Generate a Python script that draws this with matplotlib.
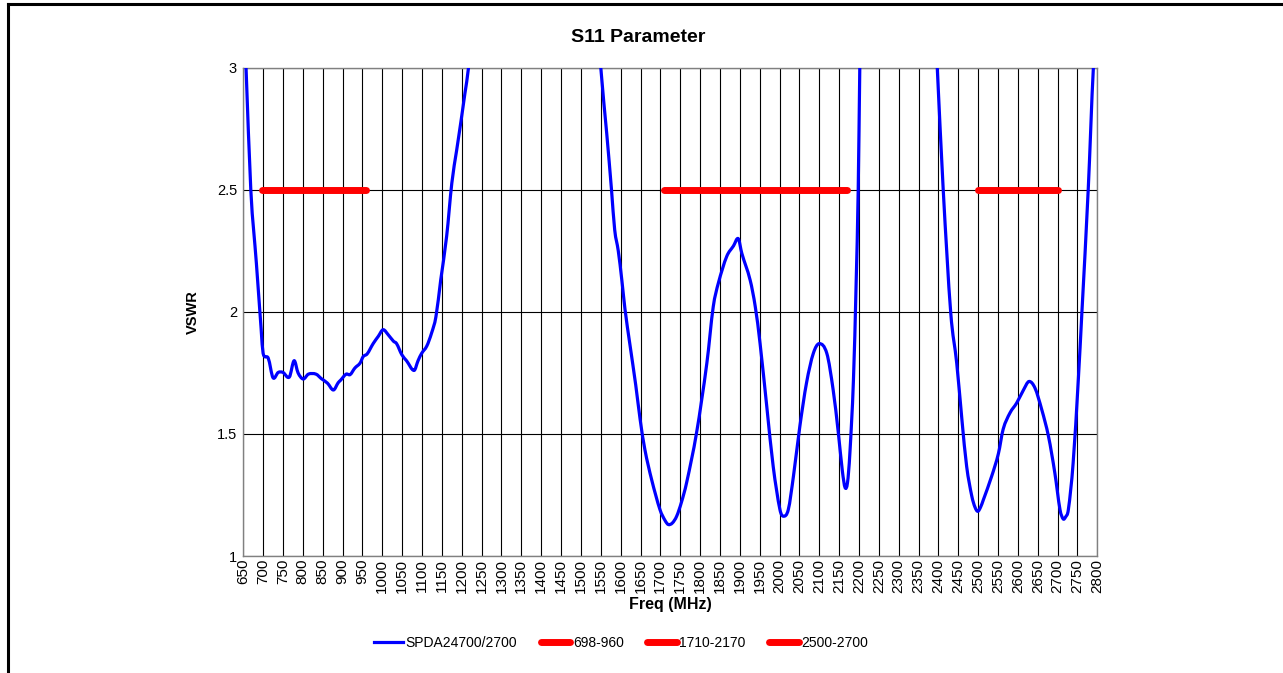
#!/usr/bin/env python3
"""S11 parameter (VSWR vs frequency) chart."""

import matplotlib
matplotlib.use("Agg")
import matplotlib.pyplot as plt
import numpy as np
from matplotlib.lines import Line2D
from matplotlib.patches import PathPatch
from matplotlib.path import Path

plt.rcParams["font.family"] = ["Liberation Sans", "DejaVu Sans"]

# measured VSWR trace (values above 3 are off-scale and get clipped)
freq_mhz = [
    650, 657, 669, 683, 695, 700, 713, 725, 738, 750, 766, 778, 788, 801, 814, 833, 847, 862,
    877, 889, 895, 909, 919, 931, 944, 952, 962, 977, 990, 1002, 1015, 1028, 1036, 1049, 1061,
    1080, 1090, 1099, 1112, 1124, 1135, 1147, 1162, 1175, 1187, 1198, 1208, 1217, 1225,
    1380,
    1542, 1550, 1565, 1577, 1585, 1594, 1603, 1611, 1623, 1638, 1649, 1661, 1678, 1699, 1712,
    1720, 1730, 1741, 1753, 1766, 1791, 1817, 1833, 1846, 1867, 1884, 1896, 1905, 1926, 1939,
    1951, 1968, 1984, 2001, 2010, 2022, 2035, 2051, 2068, 2085, 2100, 2119, 2135, 2148, 2158,
    2165, 2171, 2177, 2186, 2193, 2198, 2202, 2205,
    2300,
    2392, 2397, 2412, 2431, 2446, 2459, 2471, 2484, 2492, 2499, 2506, 2513, 2534, 2551, 2563,
    2580, 2597, 2614, 2628, 2643, 2660, 2677, 2693, 2706, 2714, 2720, 2727, 2739, 2752, 2761,
    2777, 2790, 2800,
]
vswr = [
    3.25, 3.0, 2.5, 2.2, 1.93, 1.83, 1.81, 1.73, 1.752, 1.752, 1.733, 1.80, 1.75, 1.725, 1.745,
    1.745, 1.726, 1.708, 1.68, 1.71, 1.72, 1.745, 1.743, 1.77, 1.79, 1.817, 1.828, 1.87, 1.90,
    1.927, 1.906, 1.88, 1.87, 1.825, 1.80, 1.76, 1.80, 1.83, 1.86, 1.913, 1.98, 2.13, 2.31,
    2.527, 2.66, 2.78, 2.895, 3.0, 3.15,
    6.0,
    3.2, 3.0, 2.73, 2.5, 2.336, 2.25, 2.13, 2.01, 1.87, 1.70, 1.56, 1.436, 1.313, 1.19, 1.145,
    1.129, 1.135, 1.163, 1.22, 1.30, 1.504, 1.79, 2.02, 2.118, 2.227, 2.27, 2.30, 2.24, 2.13,
    2.02, 1.87, 1.61, 1.367, 1.19, 1.163, 1.19, 1.327, 1.53, 1.71, 1.83, 1.87, 1.83, 1.68,
    1.504, 1.35, 1.28, 1.30, 1.42, 1.72, 2.13, 2.5, 3.0, 3.3,
    6.0,
    3.15, 3.0, 2.5, 1.995, 1.79, 1.56, 1.367, 1.245, 1.20, 1.183, 1.20, 1.23, 1.327, 1.42, 1.52,
    1.586, 1.627, 1.68, 1.715, 1.688, 1.60, 1.49, 1.34, 1.19, 1.152, 1.16, 1.19, 1.38, 1.72,
    1.995, 2.5, 3.0, 3.2,
]

bands = ["698-960", "1710-2170", "2500-2700"]
band_edges = [(698, 960), (1710, 2170), (2500, 2700)]
band_level = 2.5
trace_label = "SPDA24700/2700"


def smooth_path(x, y):
    """Smoothed-line path (cubic Hermite drawn as Bezier segments), like a spreadsheet 'smooth line'."""
    x = np.asarray(x, float)
    y = np.asarray(y, float)
    m = np.empty_like(y)
    m[1:-1] = (y[2:] - y[:-2]) / (x[2:] - x[:-2])
    m[0] = (y[1] - y[0]) / (x[1] - x[0])
    m[-1] = (y[-1] - y[-2]) / (x[-1] - x[-2])
    verts = [(x[0], y[0])]
    codes = [Path.MOVETO]
    for i in range(len(x) - 1):
        h = x[i + 1] - x[i]
        verts += [(x[i] + h / 3, y[i] + m[i] * h / 3),
                  (x[i + 1] - h / 3, y[i + 1] - m[i + 1] * h / 3),
                  (x[i + 1], y[i + 1])]
        codes += [Path.CURVE4] * 3
    return Path(verts, codes)


fig = plt.figure(figsize=(12.83, 6.73), dpi=100)
ax = fig.add_axes([0.1896, 0.1738, 0.6657, 0.7256])

ax.add_patch(PathPatch(smooth_path(freq_mhz, vswr), facecolor="none", edgecolor="#0000ff",
                       lw=2.3, joinstyle="round", capstyle="round", zorder=3))
for (lo, hi) in band_edges:
    ax.plot([lo, hi], [band_level, band_level], color="#ff0000", lw=5,
            solid_capstyle="round", zorder=4)

ax.set_xlim(650, 2800)
ax.set_ylim(1, 3)
ax.set_xticks(np.arange(650, 2801, 50))
ax.set_yticks([1, 1.5, 2, 2.5, 3])
ax.set_yticklabels(["1", "1.5", "2", "2.5", "3"])
ax.tick_params(axis="x", labelrotation=90, labelsize=11, length=0, pad=2)
ax.tick_params(axis="y", labelsize=10.5, length=0, pad=4.5)
ax.grid(True, color="black", lw=0.8)
ax.set_axisbelow(True)
for sp in ax.spines.values():
    sp.set_color("#808080")
    sp.set_linewidth(1.0)

fig.text(638 / 1283, 1 - 37 / 673, "S11 Parameter", ha="center", va="center",
         fontsize=14, fontweight="bold")
fig.text(193 / 1283, 1 - 312 / 673, "VSWR", ha="center", va="center",
         rotation=90, fontsize=10.5, fontweight="bold")
fig.text(670 / 1283, 1 - 604 / 673, "Freq (MHz)", ha="center", va="center",
         fontsize=11.5, fontweight="bold")

handles = [Line2D([], [], color="#0000ff", lw=2.3)]
handles += [Line2D([], [], color="#ff0000", lw=5, solid_capstyle="round") for _ in bands]
fig.legend(handles, [trace_label] + bands, loc="center", bbox_to_anchor=(621 / 1283, 1 - 643 / 673),
           ncol=4, frameon=False, fontsize=10, handlelength=2.1, handletextpad=0.2,
           columnspacing=1.7)

# outer chart frame (top and left edges visible)
fig.add_artist(Line2D([8 / 1283, 8 / 1283], [0, 1 - 4 / 673], color="black", lw=2.2,
                      transform=fig.transFigure))
fig.add_artist(Line2D([8 / 1283, 1], [1 - 4 / 673, 1 - 4 / 673], color="black", lw=2.2,
                      transform=fig.transFigure))

fig.savefig("out.png", dpi=100)
